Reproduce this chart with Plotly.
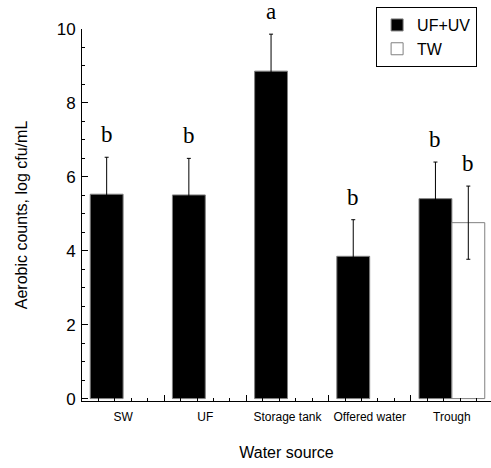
import plotly.graph_objects as go

categories = ["SW", "UF", "Storage tank", "Offered water", "Trough"]
uf_uv = [5.53, 5.51, 8.86, 3.85, 5.41]
uf_uv_err = [1.00, 0.99, 1.00, 0.99, 0.99]
tw = [None, None, None, None, 4.76]
tw_err = [0, 0, 0, 0, 0.99]
letters_uf_uv = ["b", "b", "a", "b", "b"]
letters_tw = [None, None, None, None, "b"]

SANS = "Liberation Sans, Arial, sans-serif"
SERIF = "Liberation Serif, Times New Roman, serif"

fig = go.Figure()
fig.add_trace(go.Bar(
    name="UF+UV", x=categories, y=uf_uv,
    marker=dict(color="black", line=dict(color="#808080", width=1)),
    error_y=dict(type="data", array=uf_uv_err, color="black", thickness=1, width=2),
))
fig.add_trace(go.Bar(
    name="TW", x=categories, y=tw,
    marker=dict(color="white", line=dict(color="#808080", width=1)),
    error_y=dict(type="data", array=tw_err, color="black", thickness=1, width=2),
))

bargap = 0.2
half = (1 - bargap) / 4  # centre offset of each bar within a group
for i, (v, e, t) in enumerate(zip(uf_uv, uf_uv_err, letters_uf_uv)):
    if t:
        fig.add_annotation(x=i - half, y=v + e, text=t, showarrow=False,
                           yanchor="bottom", yshift=8,
                           font=dict(family=SERIF, size=23, color="black"))
for i, (v, e, t) in enumerate(zip(tw, tw_err, letters_tw)):
    if t and v is not None:
        fig.add_annotation(x=i + half, y=v + e, text=t, showarrow=False,
                           yanchor="bottom", yshift=8,
                           font=dict(family=SERIF, size=23, color="black"))

xrange = [-0.5, 4.476]
fig.update_layout(
    width=491, height=468,
    margin=dict(l=82, r=0, t=29, b=67),
    paper_bgcolor="white", plot_bgcolor="white",
    barmode="group", bargap=bargap, bargroupgap=0,
    font=dict(family=SANS, color="black"),
    showlegend=True,
    legend=dict(x=0.966, y=1.059, xanchor="right", yanchor="top",
                bgcolor="white", bordercolor="black", borderwidth=1,
                font=dict(family=SANS, size=16, color="black"),
                tracegroupgap=0),
    xaxis=dict(type="category", range=xrange, showline=True, linecolor="black",
               linewidth=1, ticks="", showgrid=False, zeroline=False,
               ticklabelstandoff=5,
               tickfont=dict(family=SANS, size=12),
               title=dict(text="Water source", font=dict(family=SANS, size=16),
                          standoff=23)),
    xaxis2=dict(overlaying="x", anchor="y", side="bottom", type="linear",
                range=xrange, tickmode="linear", tick0=-0.5, dtick=1,
                ticks="inside", ticklen=6, tickcolor="black", tickwidth=1,
                showticklabels=False, showgrid=False, zeroline=False, showline=False,
                minor=dict(ticks="inside", ticklen=3, tickcolor="black",
                           dtick=0.2, tick0=-0.5, showgrid=False)),
    yaxis=dict(range=[-0.065, 10], tickmode="linear", tick0=0, dtick=2,
               ticks="inside", ticklen=6, tickcolor="black", tickwidth=1,
               showline=True, linecolor="black", linewidth=1,
               showgrid=False, zeroline=False, ticklabelstandoff=2,
               tickfont=dict(family=SANS, size=17),
               minor=dict(ticks="inside", ticklen=3, dtick=0.5, tickcolor="black",
                          showgrid=False),
               title=dict(text="Aerobic counts, log cfu/mL",
                          font=dict(family=SANS, size=16), standoff=25)),
)
# invisible trace to activate xaxis2
fig.add_trace(go.Scatter(x=[None], y=[None], xaxis="x2", showlegend=False,
                         hoverinfo="skip"))

fig.write_html("out.html")
